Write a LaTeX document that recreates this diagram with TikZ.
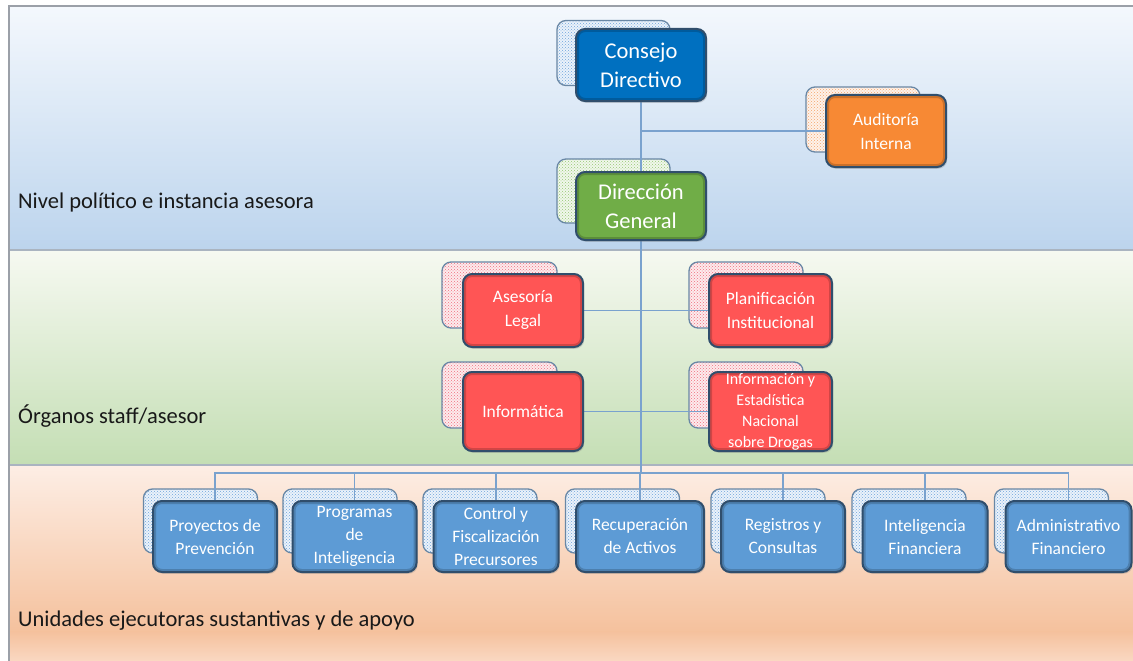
\documentclass[tikz,border=0pt]{standalone}
\usepackage{fontspec}
\setmainfont{Carlito}
\usetikzlibrary{patterns,shadows}
\pgfdeclarelayer{bglayer}
\pgfdeclarelayer{backlayer}
\pgfdeclarelayer{connlayer}
\pgfsetlayers{bglayer,backlayer,connlayer,main}
\definecolor{bandAtop}{RGB}{244,248,253}
\definecolor{bandAbot}{RGB}{188,212,237}
\definecolor{bandBtop}{RGB}{246,249,241}
\definecolor{bandBbot}{RGB}{196,222,180}
\definecolor{bandCtop}{RGB}{253,238,229}
\definecolor{bandCmid}{RGB}{245,193,157}
\definecolor{bandCbot}{RGB}{250,216,194}
\definecolor{framec}{RGB}{155,160,168}
\definecolor{sepc}{RGB}{170,180,192}
\definecolor{cdblue}{RGB}{0,112,192}
\definecolor{audorange}{RGB}{247,137,52}
\definecolor{dggreen}{RGB}{112,173,71}
\definecolor{staffred}{RGB}{255,85,85}
\definecolor{unitblue}{RGB}{93,155,213}
\definecolor{edgec}{RGB}{48,78,108}
\definecolor{backedge}{RGB}{105,135,165}
\definecolor{connc}{RGB}{122,162,206}
\definecolor{patblue}{RGB}{110,165,220}
\definecolor{patorange}{RGB}{245,165,105}
\definecolor{patgreen}{RGB}{150,200,115}
\definecolor{patred}{RGB}{240,110,125}
\definecolor{labelc}{RGB}{25,25,25}
\newcommand\fsbig{\fontsize{22.5}{29}\selectfont}
\newcommand\fsmid{\fontsize{17.5}{24}\selectfont}
\newcommand\fsunit{\fontsize{17.5}{23}\selectfont}
\newcommand\fssmall{\fontsize{16}{21}\selectfont}
\newcommand\fslabel{\fontsize{22.5}{27}\selectfont}
\begin{document}
\begin{tikzpicture}[x=1pt,y=-1pt,
  frontbox/.style={rounded corners=9pt, draw=edgec, line width=2pt, fill=#1,
    text=white, align=center, inner sep=0pt,
    drop shadow={opacity=.3, shadow xshift=1.2pt, shadow yshift=-1.8pt},
    path picture={\draw[line width=6pt, #1!60!black, opacity=.45, rounded corners=9pt]
      (path picture bounding box.south west) rectangle (path picture bounding box.north east);}},
  backbox/.style={rounded corners=9pt, draw=backedge, line width=1.3pt,
    preaction={fill=#1!14!white}, pattern=crosshatch dots, pattern color=#1, inner sep=0pt},
  conn/.style={draw=connc, line width=1.2pt},
  sidelabel/.style={anchor=west, text=labelc, font=\fslabel, inner sep=0pt}]
\useasboundingbox (0,0) rectangle (1133,661);
\begin{pgfonlayer}{bglayer}
  \shade[top color=bandAtop, bottom color=bandAbot] (9,6) rectangle (1133,250);
  \shade[top color=bandBtop, bottom color=bandBbot] (9,250) rectangle (1133,465);
  \shade[top color=bandCtop, bottom color=bandCmid] (9,465) rectangle (1133,632);
  \shade[top color=bandCmid, bottom color=bandCbot] (9,631.5) rectangle (1133,661);
  \draw[sepc, line width=1.1pt] (9,250) -- (1133,250);
  \draw[sepc, line width=1.1pt] (9,465) -- (1133,465);
  \draw[framec, line width=1.2pt] (9,661) -- (9,6) -- (1133,6);
\end{pgfonlayer}

\node[sidelabel] (lab1) at (18,203) {Nivel político e instancia asesora};
\node[sidelabel] (lab2) at (18,416) {Órganos staff/asesor};
\node[sidelabel] (lab3) at (18,621) {Unidades ejecutoras sustantivas y de apoyo};

% back boxes
\begin{pgfonlayer}{backlayer}
  \node[backbox=patblue, minimum width=113pt, minimum height=65pt] (cdb) at (613.5,53) {};
  \node[backbox=patorange, minimum width=114pt, minimum height=65pt] (audb) at (863,119.5) {};
  \node[backbox=patgreen, minimum width=113pt, minimum height=64pt] (dgb) at (613.5,191) {};
  \node[backbox=patred, minimum width=115pt, minimum height=66pt] (alb) at (499.5,295) {};
  \node[backbox=patred, minimum width=114pt, minimum height=66pt] (pib) at (746,295) {};
  \node[backbox=patred, minimum width=115pt, minimum height=66pt] (infb) at (499.5,395) {};
  \node[backbox=patred, minimum width=114pt, minimum height=66pt] (ieb) at (746,395) {};
  \node[backbox=patblue, minimum width=114pt, minimum height=64pt] (u1b) at (200.5,521) {};
  \node[backbox=patblue, minimum width=114pt, minimum height=64pt] (u2b) at (340,521) {};
  \node[backbox=patblue, minimum width=114pt, minimum height=64pt] (u3b) at (480,521) {};
  \node[backbox=patblue, minimum width=114pt, minimum height=64pt] (u4b) at (622.5,521) {};
  \node[backbox=patblue, minimum width=114pt, minimum height=64pt] (u5b) at (768,521) {};
  \node[backbox=patblue, minimum width=114pt, minimum height=64pt] (u6b) at (909,521) {};
  \node[backbox=patblue, minimum width=114pt, minimum height=64pt] (u7b) at (1051.5,521) {};
\end{pgfonlayer}

% front boxes
\node[frontbox=cdblue, minimum width=130pt, minimum height=72pt, font=\fsbig] (cd) at (641,65) {Consejo\\Directivo};
\node[frontbox=audorange, minimum width=120pt, minimum height=72pt, font=\fsmid] (aud) at (886,131) {Auditoría\\Interna};
\node[frontbox=dggreen, minimum width=130pt, minimum height=68pt, font=\fsbig] (dg) at (641,206) {Dirección\\General};
\node[frontbox=staffred, minimum width=120pt, minimum height=73pt, font=\fsmid] (al) at (523,310.5) {Asesoría\\Legal};
\node[frontbox=staffred, minimum width=123pt, minimum height=73pt, font=\fsmid] (pi) at (770.5,310.5) {Planificación\\Institucional};
\node[frontbox=staffred, minimum width=120pt, minimum height=79pt, font=\fsmid] (inf) at (523,411.5) {Informática};
\node[frontbox=staffred, minimum width=123pt, minimum height=79pt, font=\fssmall] (ie) at (770.5,411.5) {Información y\\Estadística\\Nacional\\sobre Drogas};

\node[frontbox=unitblue, minimum width=124pt, minimum height=71pt, font=\fsunit] (u1) at (215,536.5) {Proyectos de\\Prevención};
\node[frontbox=unitblue, minimum width=124pt, minimum height=71pt, font=\fsunit] (u2) at (354.5,536.5) {Programas\\de\\Inteligencia};
\node[frontbox=unitblue, minimum width=125pt, minimum height=71pt, font=\fsunit] (u3) at (496,536.5) {Control y\\Fiscalización\\Precursores};
\node[frontbox=unitblue, minimum width=128pt, minimum height=71pt, font=\fsunit] (u4) at (640,536.5) {Recuperación\\de Activos};
\node[frontbox=unitblue, minimum width=124pt, minimum height=71pt, font=\fsunit] (u5) at (783,536.5) {Registros y\\Consultas};
\node[frontbox=unitblue, minimum width=125pt, minimum height=71pt, font=\fsunit] (u6) at (925,536.5) {Inteligencia\\Financiera};
\node[frontbox=unitblue, minimum width=126pt, minimum height=71pt, font=\fsunit] (u7) at (1068.5,536.5) {Administrativo\\Financiero};

\coordinate (bus) at (641,473);

\begin{pgfonlayer}{connlayer}
  \draw[conn] (cd.south) -- (dg.north);
  \draw[conn] (aud.west) -- (aud.west -| cd.south);
  \draw[conn] (dg.south) -- (bus);
  \draw[conn] (al.east) -- (pi.west);
  \draw[conn] (inf.east) -- (ie.west);
  \draw[conn] (u1.north) -- (u1.north |- bus) -- (u7.north |- bus) -- (u7.north);
  \foreach \u in {u2,u3,u4,u5,u6} \draw[conn] (\u.north) -- (\u.north |- bus);
\end{pgfonlayer}
\end{tikzpicture}
\end{document}
